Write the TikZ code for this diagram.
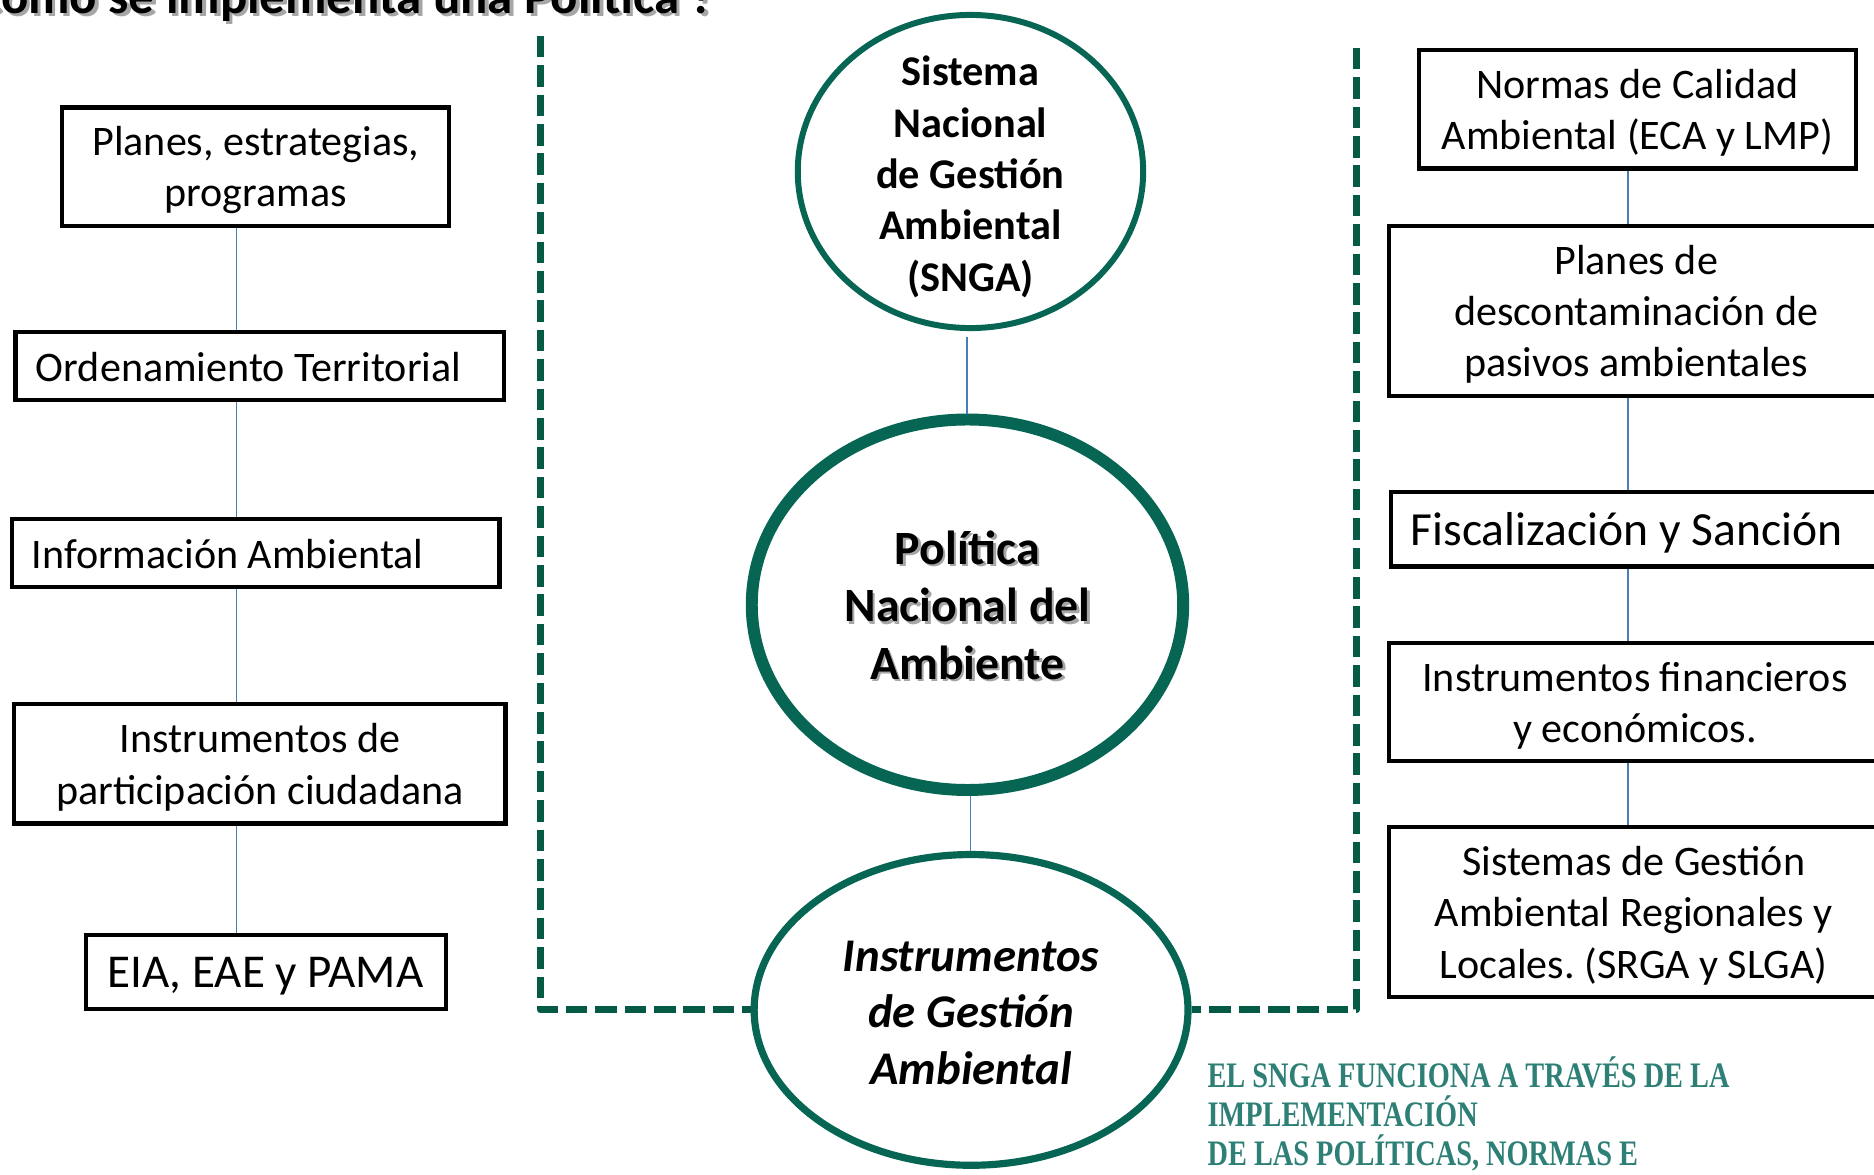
\documentclass[tikz,border=0pt]{standalone}
\usepackage{fontspec}
\setmainfont{Carlito}
\newfontfamily\serifc[FakeStretch=0.79]{Liberation Serif}
\usetikzlibrary{shapes.geometric}
\definecolor{dgreen}{RGB}{6,101,83}
\definecolor{dashgreen}{RGB}{5,90,70}
\definecolor{connblue}{RGB}{74,126,187}
\definecolor{tealtxt}{RGB}{46,128,118}
\frenchspacing
\begin{document}
\begin{tikzpicture}[x=0.5pt,y=-0.5pt,
  box/.style={draw=black,line width=1.75pt,inner sep=0pt},
  tx/.style={inner sep=0pt,align=center,font=\fontsize{17.6}{21.5}\selectfont},
  conn/.style={draw=connblue,line width=0.6pt},
  gdash/.style={draw=dashgreen,line width=3pt,dash pattern=on 9pt off 3.3pt,line join=round},
  oval/.style={ellipse,draw=dgreen,inner sep=0pt,fill=white},
  ftitle/.style={inner sep=0pt,anchor=base east,font=\bfseries\fontsize{21.3}{26}\selectfont},
  fnote/.style={inner sep=0pt,anchor=base west,text=tealtxt,font=\serifc\bfseries\fontsize{15}{16}\selectfont},
]
\useasboundingbox (0,0) rectangle (1568,983);

% title (cut by the top edge)
\node[ftitle,text=black!35] (titlesh) at (601,14) {¿Cómo se implementa una Política ?};
\node[ftitle] (title) at (598,11) {¿Cómo se implementa una Política ?};

% left column
\node[box,minimum width=162pt,minimum height=49.5pt] (b1) at (214,139.5) {};
\node[tx] (b1t) at (214,142.5) {Planes, estrategias,\\programas};
\node[box,minimum width=204.5pt,minimum height=28.5pt] (b2) at (217.5,306.5) {};
\node[tx] (b2t) at (208,307.5) {Ordenamiento Territorial};
\node[box,minimum width=204pt,minimum height=28.5pt] (b3) at (214,462.5) {};
\node[tx] (b3t) at (190.5,463.5) {Información Ambiental};
\node[box,minimum width=205.5pt,minimum height=50pt] (b4) at (217.5,639) {};
\node[tx] (b4t) at (217.5,642) {Instrumentos de\\participación ciudadana};
\node[box,minimum width=150.5pt,minimum height=31pt] (b5) at (222.5,813) {};
\node[tx,font=\fontsize{19.7}{24}\selectfont] (b5t) at (222,817) {EIA, EAE y PAMA};

\coordinate (lx) at (198,0);
\draw[conn] (b1.south -| lx) -- (b2.north -| lx);
\draw[conn] (b2.south -| lx) -- (b3.north -| lx);
\draw[conn] (b3.south -| lx) -- (b4.north -| lx);
\draw[conn] (b4.south -| lx) -- (b5.north -| lx);

% right column
\node[box,minimum width=183pt,minimum height=49.5pt] (r1) at (1370,91.5) {};
\node[tx] (r1t) at (1370,94.5) {Normas de Calidad\\Ambiental (ECA y LMP)};
\node[box,minimum width=207pt,minimum height=71pt] (r2) at (1369,260) {};
\node[tx] (r2t) at (1369,263) {Planes de\\descontaminación de\\pasivos ambientales};
\node[box,minimum width=206pt,minimum height=31pt] (r3) at (1370,443) {};
\node[tx,font=\fontsize{19.9}{24}\selectfont] (r3t) at (1361,446) {Fiscalización y Sanción};
\node[box,minimum width=207pt,minimum height=49.5pt] (r4) at (1369,587.5) {};
\node[tx] (r4t) at (1368,590.5) {Instrumentos financieros\\y económicos.};
\node[box,minimum width=207pt,minimum height=71pt] (r5) at (1369,763) {};
\node[tx] (r5t) at (1367,766) {Sistemas de Gestión\\Ambiental Regionales y\\Locales. (SRGA y SLGA)};

\coordinate (rx) at (1362,0);
\draw[conn] (r1.south -| rx) -- (r2.north -| rx);
\draw[conn] (r2.south -| rx) -- (r3.north -| rx);
\draw[conn] (r3.south -| rx) -- (r4.north -| rx);
\draw[conn] (r4.south -| rx) -- (r5.north -| rx);

% centre column
\node[oval,line width=2.5pt,minimum width=144.5pt,minimum height=131pt] (snga) at (812,143.5) {};
\node[tx,font=\bfseries\fontsize{17.7}{21.5}\selectfont] (sngat) at (812,148)
  {Sistema\\Nacional\\de Gestión\\Ambiental\\(SNGA)};
\node[oval,line width=5pt,minimum width=180.5pt,minimum height=155pt] (pol) at (809.5,506) {};
\node[tx,text=black!35,font=\bfseries\fontsize{20}{24}\selectfont] (polsh) at (811.5,508.5) {Política\\Nacional del\\Ambiente};
\node[tx,font=\bfseries\fontsize{20}{24}\selectfont] (poltxt) at (809.5,506.5) {Política\\Nacional del\\Ambiente};
\node[oval,line width=3pt,minimum width=181.5pt,minimum height=130pt] (inst) at (812.5,845) {};
\node[tx,font=\bfseries\itshape\fontsize{19.6}{23.7}\selectfont] (instt) at (812.5,847.5)
  {Instrumentos\\de Gestión\\Ambiental};

\coordinate (cxa) at (809,0);
\coordinate (cxb) at (812,0);
\draw[conn] ([yshift=-2.5pt]snga.south -| cxa) -- (pol.north -| cxa);
\draw[conn] (pol.south -| cxb) -- (inst.north -| cxb);

% dashed frame
\coordinate (dl) at (452,30);
\coordinate (dr) at (1135,40);
\draw[gdash] (dl) |- (inst.west);
\draw[gdash] (dr) |- (inst.east);

% note
\node[fnote] (n1) at (1010,910) {EL SNGA FUNCIONA A TRAVÉS DE LA};
\node[fnote] (n2) at (1010,942.5) {IMPLEMENTACIÓN};
\node[fnote] (n3) at (1010,975) {DE LAS POLÍTICAS, NORMAS E};
\end{tikzpicture}
\end{document}
